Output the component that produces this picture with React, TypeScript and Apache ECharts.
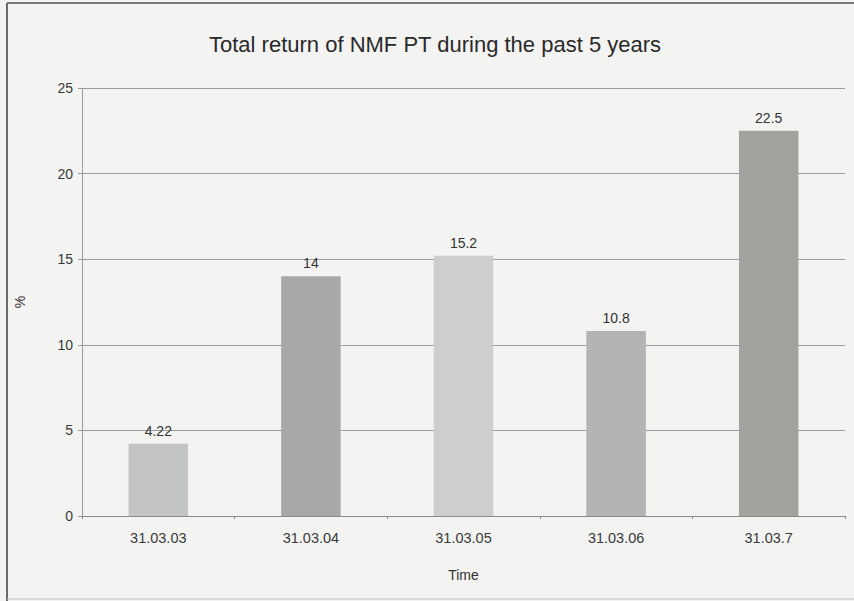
import React, { useEffect, useRef } from "react";
import * as echarts from "echarts";

const categories = ["31.03.03", "31.03.04", "31.03.05", "31.03.06", "31.03.7"];
const returns = [4.22, 14, 15.2, 10.8, 22.5];
const barColors = ["#c3c5c4", "#a8a8a7", "#cdcfce", "#b3b4b3", "#a2a39f"];
const titleText = "Total return of NMF PT during the past 5 years";

export default function App() {
  const ref = useRef<HTMLDivElement>(null);
  useEffect(() => {
    if (!ref.current) return;
    const chart = echarts.init(ref.current, undefined, { renderer: "svg" });
    const font = "'Liberation Sans', Arial, sans-serif";
    chart.setOption({
      animation: false,
      backgroundColor: "#f3f3f2",
      textStyle: { fontFamily: font },
      title: {
        text: titleText,
        left: 204,
        top: 28,
        textStyle: { fontSize: 22, fontWeight: "normal", color: "#2a2a2a", fontFamily: font },
      },
      grid: { left: 82, right: 9, top: 88, bottom: 85, containLabel: false },
      xAxis: {
        type: "category",
        data: categories,
        name: "Time",
        nameLocation: "middle",
        nameGap: 52,
        nameTextStyle: { fontSize: 14, color: "#333", fontFamily: font },
        axisLine: { show: true, lineStyle: { color: "#8a8a8a", width: 1 } },
        axisTick: { show: true, length: 3, lineStyle: { color: "#8a8a8a" } },
        axisLabel: { fontSize: 14.5, color: "#3a3a3a", margin: 14, fontFamily: font },
      },
      yAxis: {
        type: "value",
        min: 0,
        max: 25,
        interval: 5,
        name: "%",
        nameLocation: "middle",
        nameRotate: 90,
        nameGap: 55,
        nameTextStyle: { fontSize: 14, color: "#333", fontFamily: font },
        axisLine: { show: true, lineStyle: { color: "#9a9a9a", width: 1 } },
        axisTick: { show: true, length: 4, lineStyle: { color: "#9a9a9a" } },
        axisLabel: { fontSize: 14, color: "#3a3a3a", margin: 9, fontFamily: font },
        splitLine: { show: true, lineStyle: { color: "#9c9c9c", width: 1 } },
      },
      series: [
        {
          type: "bar",
          barWidth: "39%",
          data: returns.map((v, i) => ({ value: v, itemStyle: { color: barColors[i] } })),
          label: {
            show: true,
            position: "top",
            distance: 6,
            fontSize: 14,
            color: "#333",
            fontFamily: font,
          },
        },
      ],
      graphic: [
        { type: "line", shape: { x1: 7, y1: 3, x2: 7, y2: 601 }, style: { stroke: "#6a6a6a", lineWidth: 2 }, silent: true },
        { type: "line", shape: { x1: 7, y1: 3, x2: 854, y2: 3 }, style: { stroke: "#7a7a7a", lineWidth: 2 }, silent: true },
        { type: "line", shape: { x1: 7, y1: 599, x2: 854, y2: 599 }, style: { stroke: "#bbbbbb", lineWidth: 1 }, silent: true },
      ],
    });
    return () => chart.dispose();
  }, []);
  return (
    <div
      ref={ref}
      style={{ position: "fixed", left: 0, top: 0, width: 854, height: 601 }}
    />
  );
}
